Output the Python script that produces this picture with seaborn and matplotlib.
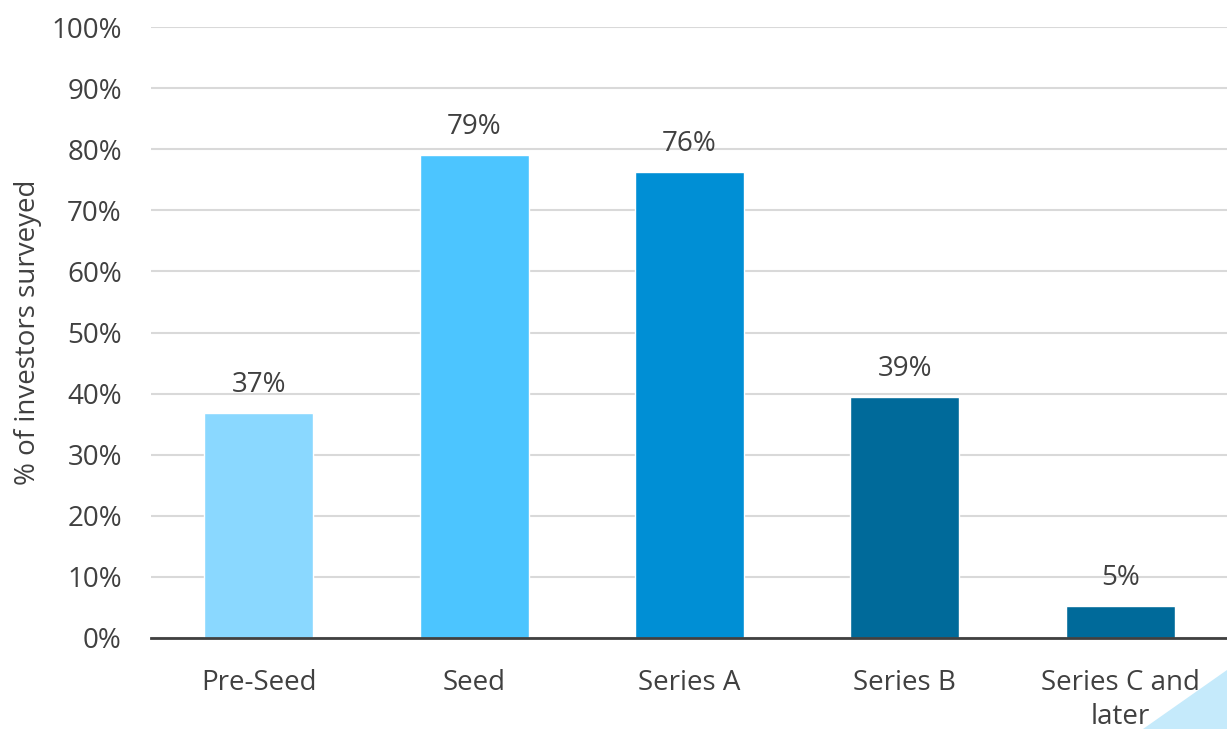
import matplotlib
matplotlib.use("Agg")
import matplotlib.pyplot as plt
import seaborn as sns
import pandas as pd
from matplotlib.patches import Polygon

stages = ["Pre-Seed", "Seed", "Series A", "Series B", "Series C and\nlater"]
pct = [36.8, 79.0, 76.3, 39.4, 5.2]
bar_colors = ["#8AD8FF", "#4CC5FF", "#008FD5", "#006A9A", "#006A9A"]
yticks = list(range(0, 101, 10))

df = pd.DataFrame({"stage": stages, "pct": pct})

sns.set_style("white")
plt.rcParams["font.family"] = ["Open Sans", "DejaVu Sans"]
text_col = "#404040"

fig = plt.figure(figsize=(12.27, 7.29), dpi=100)
ax = fig.add_axes([151 / 1227, 1 - 638 / 729, 1077 / 1227, 611 / 729])

sns.barplot(data=df, x="stage", y="pct", hue="stage", palette=bar_colors,
            width=0.506, legend=False, saturation=1, ax=ax)

ax.set_ylim(0, 100)
ax.set_xlim(-0.5, len(stages) - 0.5)
ax.set_yticks(yticks)
ax.set_yticklabels([f"{t}%" for t in yticks])
ax.yaxis.grid(True, color="#D9D9D9", linewidth=1.5)
ax.set_axisbelow(True)
for s in ["top", "right", "left"]:
    ax.spines[s].set_visible(False)
ax.spines["bottom"].set_color("#404040")
ax.spines["bottom"].set_linewidth(2)
ax.tick_params(axis="both", length=0, labelsize=20, colors=text_col)
ax.tick_params(axis="x", pad=22)
ax.tick_params(axis="y", pad=21)
for lbl in ax.get_xticklabels():
    lbl.set_linespacing(1.3)
ax.set_xlabel("")
ax.set_ylabel("% of investors surveyed", fontsize=20, color=text_col)
ax.yaxis.set_label_coords(-0.101, 0.5)

for c in ax.containers:
    ax.bar_label(c, fmt="{:.0f}%", padding=10, fontsize=20, color=text_col)

tri = Polygon([[1143 / 1227, 0], [1, 59 / 729], [1, 0]], closed=True,
              transform=fig.transFigure, facecolor="#C5EAFB", edgecolor="none",
              zorder=-1)
fig.patches.append(tri)

fig.savefig("out.png", dpi=100)
